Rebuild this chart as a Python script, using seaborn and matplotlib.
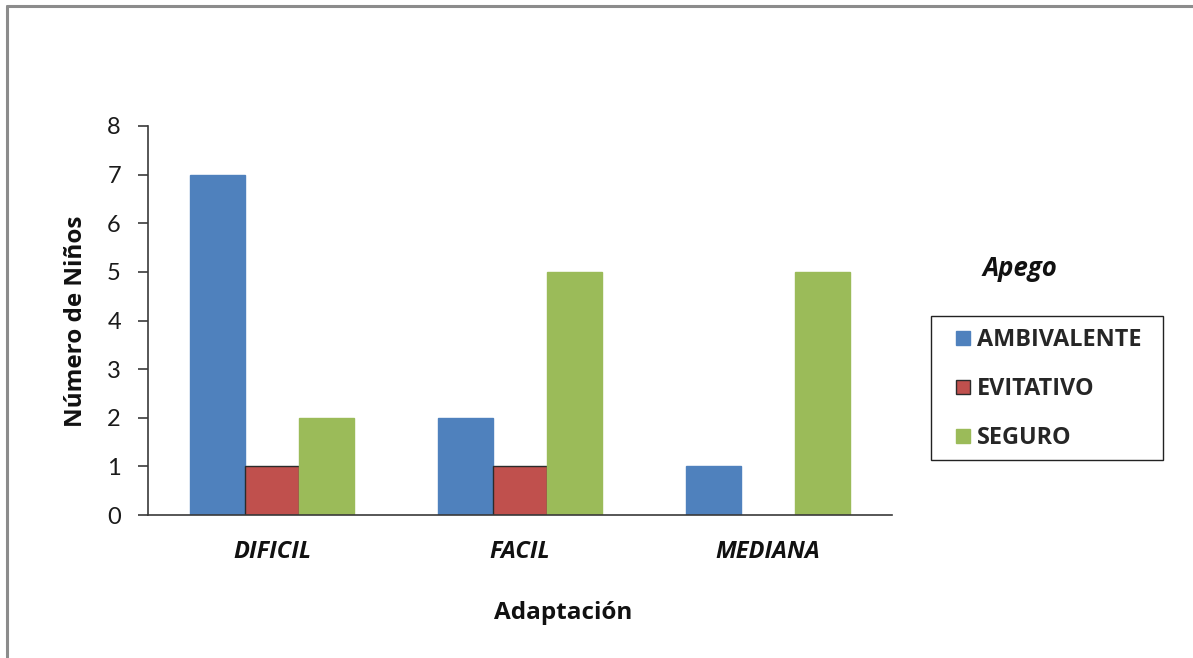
import matplotlib
matplotlib.use("Agg")
import matplotlib.pyplot as plt
from matplotlib.lines import Line2D
from matplotlib.patches import Rectangle
import pandas as pd
import seaborn as sns

# Children per adaptation level and attachment style
adaptacion = ["DIFICIL", "FACIL", "MEDIANA"]
apego = ["AMBIVALENTE", "EVITATIVO", "SEGURO"]
ambivalente = [7, 2, 1]
evitativo = [1, 1, 0]
seguro = [2, 5, 5]
colores = ["#4F81BD", "#C0504D", "#9BBB59"]
bordes = ["#4F81BD", "#2B2B2B", "#9BBB59"]
y_ticks = [0, 1, 2, 3, 4, 5, 6, 7, 8]

df = pd.DataFrame({
    "Adaptación": adaptacion * 3,
    "Apego": [a for a in apego for _ in adaptacion],
    "Número": ambivalente + evitativo + seguro,
})

sns.set_theme(style="white")
plt.rcParams["font.family"] = ["Lato", "DejaVu Sans"]
bold_family = ["Open Sans", "DejaVu Sans"]

W, H = 1193, 658
fig = plt.figure(figsize=(W / 100, H / 100), dpi=100)
ax = fig.add_axes([148 / W, 1 - 515 / H, 744 / W, 389 / H])

sns.barplot(data=df, x="Adaptación", y="Número", hue="Apego",
            order=adaptacion, hue_order=apego, palette=colores,
            width=0.665, gap=0, dodge=True, saturation=1,
            legend=False, ax=ax)

# outline each series like the spreadsheet style
for cont, edge in zip(ax.containers, bordes):
    for bar in cont:
        bar.set_edgecolor(edge)
        bar.set_linewidth(1.0)
        if bar.get_height() == 0:
            bar.set_visible(False)

ax.set_xlim(-0.5, 2.5)
ax.set_ylim(0, 8)
ax.set_yticks(y_ticks)
ax.set_yticklabels([str(t) for t in y_ticks])

for side in ["top", "right"]:
    ax.spines[side].set_visible(False)
for side in ["left", "bottom"]:
    ax.spines[side].set_color("#3A3A3A")
    ax.spines[side].set_linewidth(1.2)

ax.tick_params(axis="y", which="major", left=True, direction="out",
               length=7.5, width=1.2, color="#3A3A3A", pad=12,
               labelsize=17, labelcolor="#1A1A1A")
ax.tick_params(axis="x", which="major", bottom=False, length=0, pad=18,
               labelsize=17, labelcolor="#111111")
for lab in ax.get_xticklabels():
    lab.set_family(bold_family)
    lab.set_fontweight("bold")
    lab.set_fontstyle("italic")

ax.set_xlabel("Adaptación", fontsize=17.5, fontweight="bold", color="#111111",
              family=bold_family)
ax.set_ylabel("Número de Niños", fontsize=17.5, fontweight="bold", color="#111111",
              family=bold_family)
ax.xaxis.set_label_coords((563 - 148) / 744, -(613 - 515) / 389)
ax.xaxis.label.set_va("center")
ax.yaxis.set_label_coords((76 - 148) / 744, (515 - 321) / 389)
ax.yaxis.label.set_va("center")

# legend entries, with the box and the title drawn around them
leg_fs = 16.8
handles = [Line2D([0], [0], marker="s", linestyle="none", markersize=9.5,
                  markerfacecolor=c, markeredgecolor=e, markeredgewidth=1)
           for c, e in zip(colores, bordes)]
fig.legend(handles, apego, loc="upper left",
           bbox_to_anchor=(951.5 / W, 1 - 328.5 / H),
           prop={"family": bold_family, "weight": "bold", "size": leg_fs},
           frameon=False, labelspacing=1.06, handletextpad=0.09,
           handlelength=1.0, borderpad=0, borderaxespad=0)
fig.add_artist(Rectangle((931 / W, 1 - 460 / H), 232 / W, 144 / H,
                         transform=fig.transFigure, fill=False,
                         edgecolor="#222222", linewidth=1.0))

fig.text(1020 / W, 1 - 268 / H, "Apego", ha="center", va="center",
         fontsize=18.5, fontweight="bold", fontstyle="italic", color="#111111",
         family=bold_family)

# gray frame along the top and left edges
fig.add_artist(Line2D([7 / W, 1.0], [1 - 6 / H, 1 - 6 / H],
                      transform=fig.transFigure, color="#8C8C8C", linewidth=2.2))
fig.add_artist(Line2D([7 / W, 7 / W], [0.0, 1 - 6 / H],
                      transform=fig.transFigure, color="#8C8C8C", linewidth=2.2))

fig.savefig("out.png", dpi=100, facecolor="white")
